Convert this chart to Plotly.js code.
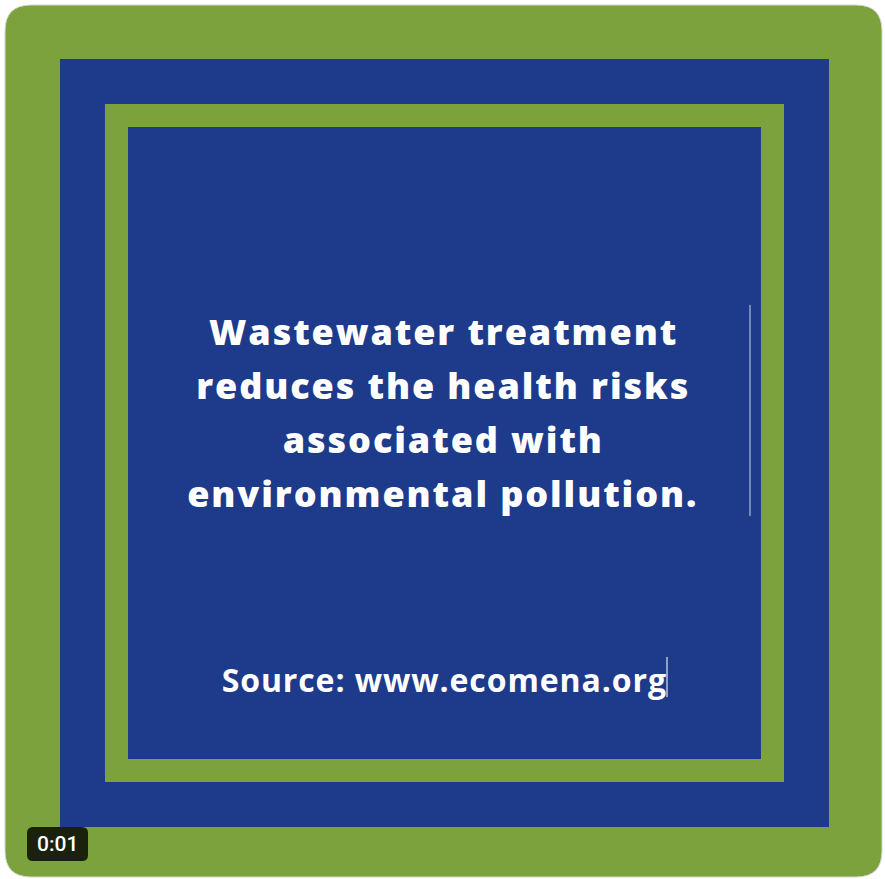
<!DOCTYPE html>
<html>
<head>
<meta charset="utf-8">
<script src="https://cdn.plot.ly/plotly-3.0.1.min.js"></script>
<style>html,body{margin:0;padding:0;background:#fff;}#chart{width:885px;height:879px;}</style>
</head>
<body>
<div id="chart"></div>
<script>
// Content
var messageLines = ["Wastewater treatment", "reduces the health risks", "associated with", "environmental pollution."];
var sourceText = "Source: www.ecomena.org";
var timestampText = "0:01";

var GREEN = "#7ba23c";
var BLUE = "#1e3a8b";

var W = 885, H = 879;

function rect(x0, y0, x1, y1, color) {
  return {type: "rect", xref: "x", yref: "y", x0: x0, y0: y0, x1: x1, y1: y1,
          fillcolor: color, line: {width: 0}, layer: "below"};
}
function roundRect(x0, y0, x1, y1, r) {
  return "M " + (x0 + r) + "," + y0 + " H " + (x1 - r) + " Q " + x1 + "," + y0 + " " + x1 + "," + (y0 + r) +
         " V " + (y1 - r) + " Q " + x1 + "," + y1 + " " + (x1 - r) + "," + y1 +
         " H " + (x0 + r) + " Q " + x0 + "," + y1 + " " + x0 + "," + (y1 - r) +
         " V " + (y0 + r) + " Q " + x0 + "," + y0 + " " + (x0 + r) + "," + y0 + " Z";
}

var shapes = [
  {type: "path", xref: "x", yref: "y", path: roundRect(5, 5, 882, 877, 26), fillcolor: GREEN,
   line: {color: "#d6d6d6", width: 1}, layer: "below"},
  rect(60, 59, 829, 827, BLUE),
  rect(105, 104, 784, 782, GREEN),
  rect(128, 127, 761, 759, BLUE),
  {type: "line", xref: "x", yref: "y", x0: 750, x1: 750, y0: 305, y1: 516,
   line: {color: "rgba(190,205,235,0.7)", width: 1.5}},
  {type: "line", xref: "x", yref: "y", x0: 667, x1: 667, y0: 657, y1: 697,
   line: {color: "rgba(220,228,245,0.8)", width: 1.5}},
  {type: "path", xref: "x", yref: "y", path: roundRect(27, 827, 88, 861, 6),
   fillcolor: "rgba(12,16,8,0.88)", line: {width: 0}}
];

var annotations = [];
var baseY = 331, step = 54;
messageLines.forEach(function (t, i) {
  annotations.push({text: t, x: 443, y: baseY + i * step, xref: "x", yref: "y",
    xanchor: "center", yanchor: "middle", showarrow: false, name: "msg",
    font: {family: "Open Sans", size: 36, weight: 800, color: "#ffffff"}});
});
annotations.push({text: sourceText, x: 444, y: 679, xref: "x", yref: "y",
  xanchor: "center", yanchor: "middle", showarrow: false, name: "src",
  font: {family: "Open Sans", size: 32, weight: 700, color: "#ffffff"}});
annotations.push({text: timestampText, x: 57.5, y: 844, xref: "x", yref: "y",
  xanchor: "center", yanchor: "middle", showarrow: false, name: "time",
  font: {family: "Roboto", size: 21, weight: 500, color: "#ffffff"}});

var layout = {
  width: W, height: H,
  margin: {l: 0, r: 0, t: 0, b: 0, pad: 0},
  paper_bgcolor: "#ffffff", plot_bgcolor: "rgba(0,0,0,0)",
  xaxis: {range: [0, W], visible: false, fixedrange: true},
  yaxis: {range: [H, 0], visible: false, fixedrange: true},
  shapes: shapes, annotations: annotations, showlegend: false
};

Plotly.newPlot("chart", [{x: [], y: [], type: "scatter", mode: "markers", hoverinfo: "skip"}], layout,
  {staticPlot: true, displayModeBar: false}).then(function (gd) {
  // letter spacing to match the wide tracking of the original artwork
  var texts = gd.querySelectorAll(".annotation-text");
  texts.forEach(function (el, i) {
    var sp = i < messageLines.length ? 1.9 : (i === messageLines.length ? 0.9 : 0);
    if (sp) el.style.letterSpacing = sp + "px";
  });
});
</script>
</body>
</html>
